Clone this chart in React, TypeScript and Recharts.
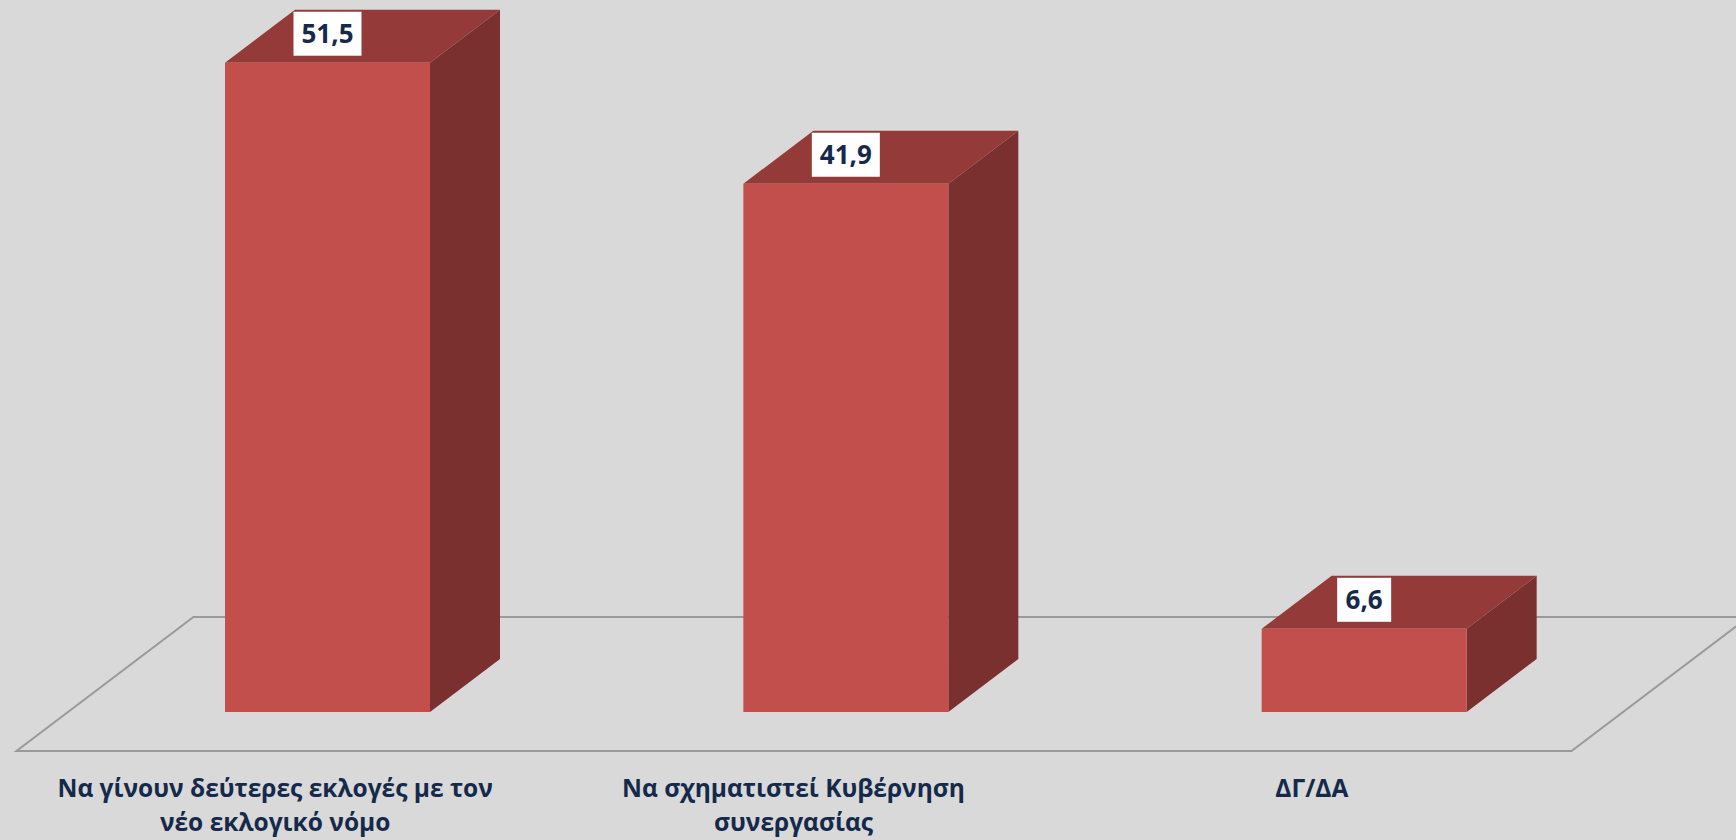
import { BarChart, Bar, XAxis, YAxis, ReferenceLine, LabelList } from "recharts";

// Categories and their two-line tick labels
const categories: string[] = ["first", "second", "third"];
const tickLines: string[][] = [
  ["Να γίνουν δεύτερες εκλογές με τον", "νέο εκλογικό νόμο"],
  ["Να σχηματιστεί Κυβέρνηση", "συνεργασίας"],
  ["ΔΓ/ΔΑ"],
];
const values: number[] = [51.5, 41.9, 6.6];

const data = categories.map((key, i) => ({ key, lines: tickLines[i], value: values[i] }));

// 3D look
const DX = 70;
const DY = 53;
const FRONT = "#c24f4b";
const TOP = "#943b39";
const SIDE = "#7b3030";
const TEXT = "#152a4a";
const FONT = "'Open Sans', sans-serif";

const Box3D = (props: any) => {
  const { x, y, width: w, height: h } = props;
  return (
    <g>
      <polygon
        points={`${x},${y} ${x + DX},${y - DY} ${x + w + DX},${y - DY} ${x + w},${y}`}
        fill={TOP}
      />
      <polygon
        points={`${x + w},${y} ${x + w + DX},${y - DY} ${x + w + DX},${y + h - DY} ${x + w},${y + h}`}
        fill={SIDE}
      />
      <rect x={x} y={y} width={w} height={h} fill={FRONT} />
    </g>
  );
};

// the grey floor the boxes stand on
const Floor = (props: any) => {
  const { x1, x2, y1 } = props;
  const front = y1 + 39;
  const back = y1 - 95;
  const k = DX / DY;
  const fl = x1 - 39 * k;
  const fr = x2 - 39 * k;
  const bl = x1 + 95 * k;
  const br = x2 + 95 * k;
  return (
    <polygon
      points={`${fl},${front} ${fr},${front} ${br},${back} ${bl},${back}`}
      fill="none"
      stroke="#9a9a9a"
      strokeWidth={2}
    />
  );
};

const ValueLabel = (props: any) => {
  const { x, y, width, value } = props;
  const txt = String(value).replace(".", ",");
  const boxW = txt.length * 14 + 12;
  const cx = x + width / 2;
  const top = y - DY + 2;
  return (
    <g>
      <rect x={cx - boxW / 2} y={top} width={boxW} height={44} fill="#ffffff" />
      <text
        x={cx}
        y={top + 31}
        textAnchor="middle"
        fontFamily={FONT}
        fontWeight={700}
        fontSize={26}
        fill={TEXT}
      >
        {txt}
      </text>
    </g>
  );
};

const CategoryTick = (props: any) => {
  const { x, y, index } = props;
  const lines = tickLines[index] || [];
  return (
    <text
      x={x - 52}
      y={y}
      textAnchor="middle"
      fontFamily={FONT}
      fontWeight={700}
      fontSize={24.5}
      fill={TEXT}
    >
      {lines.map((l, i) => (
        <tspan key={i} x={x - 52} dy={i === 0 ? 77 : 34}>
          {l}
        </tspan>
      ))}
    </text>
  );
};

export default function App() {
  return (
    <div style={{ position: "fixed", inset: 0, background: "#d9d9d9" }}>
      <BarChart
        width={1736}
        height={840}
        data={data}
        margin={{ top: 6, right: 113, left: 68, bottom: 0 }}
      >
        <XAxis
          dataKey="key"
          height={128}
          axisLine={false}
          tickLine={false}
          tick={<CategoryTick />}
          interval={0}
        />
        <YAxis hide domain={[0, 56]} />
        <ReferenceLine y={0} ifOverflow="visible" shape={<Floor />} zIndex={-50} />
        <Bar dataKey="value" barSize={205} shape={<Box3D />} isAnimationActive={false}>
          <LabelList dataKey="value" content={<ValueLabel />} />
        </Bar>
      </BarChart>
    </div>
  );
}
